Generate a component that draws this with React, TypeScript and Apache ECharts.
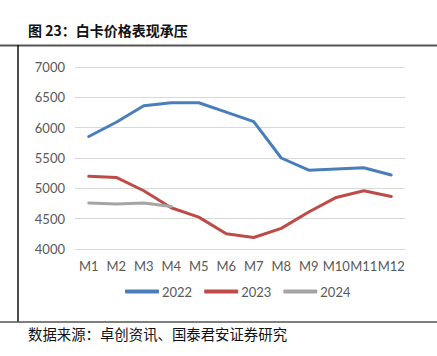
import React, { useEffect, useRef } from "react";
import * as echarts from "echarts";

const categories = ["M1", "M2", "M3", "M4", "M5", "M6", "M7", "M8", "M9", "M10", "M11", "M12"];
const s2022 = [5855, 6090, 6360, 6410, 6410, 6255, 6100, 5500, 5300, 5320, 5340, 5220];
const s2023 = [5200, 5180, 4960, 4680, 4525, 4250, 4190, 4340, 4610, 4850, 4960, 4865];
const s2024 = [4760, 4740, 4760, 4700];
const yTicks = { min: 4000, max: 7000, interval: 500 };

export default function App() {
  const ref = useRef<HTMLDivElement>(null);
  useEffect(() => {
    const chart = echarts.init(ref.current!, null, { renderer: "svg" });
    const font = "Lato, 'Open Sans', sans-serif";
    const mk = (name: string, data: number[], color: string) => ({
      name,
      type: "line",
      data,
      symbol: "none",
      lineStyle: { color, width: 3, cap: "round", join: "round" },
      itemStyle: { color },
    });
    chart.setOption({
      animation: false,
      grid: { left: 75, right: 32, top: 67, bottom: 107, containLabel: false },
      xAxis: {
        type: "category",
        data: categories,
        boundaryGap: true,
        axisLine: { show: false },
        axisTick: { show: false },
        axisLabel: { color: "#595959", fontSize: 13, fontFamily: font, margin: 10, interval: 0 },
      },
      yAxis: {
        type: "value",
        min: yTicks.min,
        max: yTicks.max,
        interval: yTicks.interval,
        axisLine: { show: false },
        axisTick: { show: false },
        splitLine: { lineStyle: { color: "#d9d9d9", width: 1 } },
        axisLabel: { color: "#595959", fontSize: 13, fontFamily: font, margin: 10, formatter: (v: number) => String(v) },
      },
      legend: {
        bottom: 53,
        left: 120,
        icon: "roundRect",
        itemWidth: 34,
        itemHeight: 4,
        itemGap: 12,
        textStyle: { color: "#595959", fontSize: 13, fontFamily: font, padding: [0, 0, 0, -2] },
        data: ["2022", "2023", "2024"],
      },
      series: [mk("2022", s2022, "#4a7ebb"), mk("2023", s2023, "#be4b48"), mk("2024", s2024, "#a5a5a5")],
      graphic: [
        {
          type: "text",
          left: 28,
          top: 23,
          style: {
            text: "图 23：白卡价格表现承压",
            fill: "#111",
            fontSize: 14,
            fontWeight: "bold",
            fontFamily: "'Noto Sans CJK SC', sans-serif",
          },
        },
        { type: "line", shape: { x1: 0, y1: 45.5, x2: 437, y2: 45.5 }, style: { stroke: "#555", lineWidth: 2 } },
        { type: "line", shape: { x1: 18, y1: 45, x2: 18, y2: 322 }, style: { stroke: "#111", lineWidth: 1.5 } },
        { type: "line", shape: { x1: 0, y1: 322, x2: 437, y2: 322 }, style: { stroke: "#555", lineWidth: 1.5 } },
        {
          type: "text",
          left: 28,
          top: 326,
          style: {
            text: "数据来源：卓创资讯、国泰君安证券研究",
            fill: "#111",
            fontSize: 14.4,
            fontFamily: "'Noto Sans CJK SC', sans-serif",
          },
        },
      ],
    });
    return () => chart.dispose();
  }, []);
  return <div ref={ref} style={{ position: "fixed", left: 0, top: 0, width: 437, height: 356, background: "#fff" }} />;
}
